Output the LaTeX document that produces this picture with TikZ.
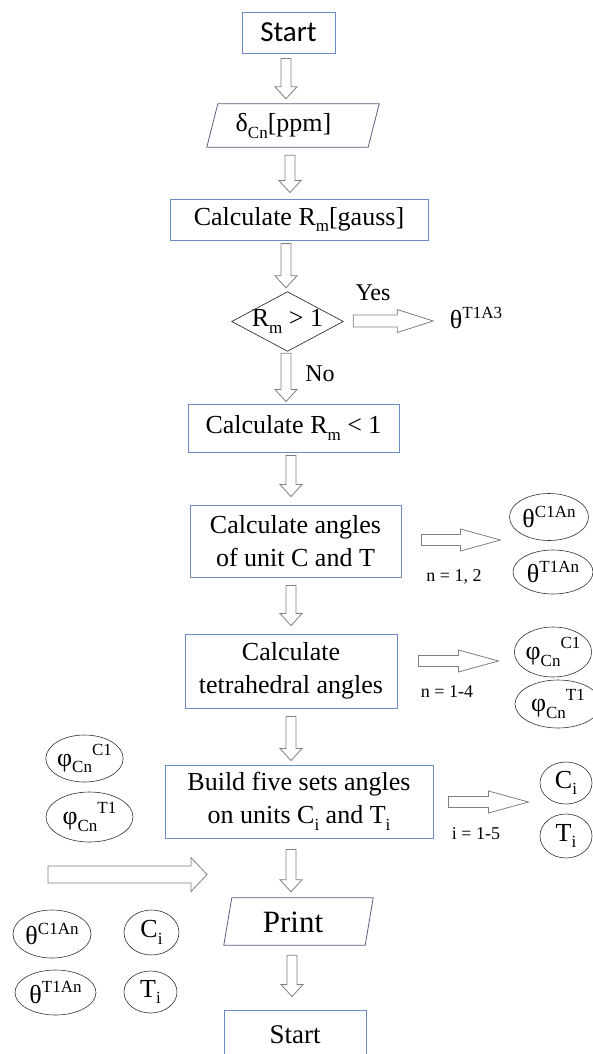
\documentclass[tikz,border=0pt]{standalone}
\usepackage{fontspec}
\setmainfont{Liberation Serif}
\newfontfamily\calibfont{Carlito}
\usetikzlibrary{calc,shapes.geometric}
\definecolor{boxblue}{HTML}{6B8BC4}
\definecolor{agray}{HTML}{7F7F7F}
\definecolor{pedge}{HTML}{55607A}
\newcommand\mysub[1]{\raisebox{-0.25em}{\fontsize{17}{17}\selectfont #1}}
\newcommand\mysup[1]{\raisebox{0.42em}{\fontsize{17}{17}\selectfont #1}}
\tikzset{
 bluebox/.style={draw=boxblue, line width=0.9pt, inner sep=0pt, align=center, font=\fontsize{26}{33}\selectfont},
 ghost/.style={inner sep=0pt, font=\fontsize{26}{33}\selectfont},
 oval/.style={ellipse, draw=black!80, line width=0.6pt, inner sep=0pt, font=\fontsize{26}{30}\selectfont},
 lbl/.style={inner sep=0pt, font=\fontsize{18}{20}\selectfont},
 plain/.style={inner sep=0pt, font=\fontsize{26}{30}\selectfont},
 pedgeline/.style={draw=pedge, line width=0.8pt},
 barrow/.style n args={3}{draw=agray, fill=white, line width=0.8pt, line join=miter,
   to path={let \p1=(\tikztostart), \p2=(\tikztotarget), \n1={atan2(\y2-\y1,\x2-\x1)}, \n2={veclen(\x2-\x1,\y2-\y1)-#3} in
   ($(\p1)+(\n1+90:#1)$) -- ($(\p1)+(\n1:{\n2*1pt})+(\n1+90:#1)$) -- ($(\p1)+(\n1:{\n2*1pt})+(\n1+90:#2)$) -- (\p2) -- ($(\p1)+(\n1:{\n2*1pt})+(\n1-90:#2)$) -- ($(\p1)+(\n1:{\n2*1pt})+(\n1-90:#1)$) -- ($(\p1)+(\n1-90:#1)$) -- cycle}},
 darrow/.style={barrow={5pt}{11pt}{12pt}},
 rarrow/.style={barrow={5.5pt}{11pt}{40pt}},
}
\begin{document}
\begin{tikzpicture}[x=1pt,y=-1pt]
\useasboundingbox (0,0) rectangle (593,1054);
% main column
\node[bluebox, minimum width=93pt, minimum height=41pt, font=\calibfont\fontsize{29}{33}\selectfont] (start) at (288.5,32.5) {Start};
\node[ghost, minimum width=172pt, minimum height=43pt] (inp) at (293,125.5) {};
\draw[pedgeline] ($(inp.north west)+(11,0)$) -- (inp.north east) -- ($(inp.south east)+(-11,0)$) -- (inp.south west) -- cycle;
\node[plain] (inptext) at (283.5,126) {δ\mysub{Cn}[ppm]};
\node[bluebox, minimum width=258pt, minimum height=41pt] (calcA) at (299,219.5) {Calculate R\mysub{m}[gauss]};
\node[ghost, minimum width=111pt, minimum height=59pt] (dec) at (287.5,321.5) {R\mysub{m} > 1};
\draw[black!80, line width=0.7pt] (dec.north) -- (dec.east) -- (dec.south) -- (dec.west) -- cycle;
\node[plain, font=\fontsize{24}{28}\selectfont] (yes) at (373,292.5) {Yes};
\node[plain] (th3) at (476,318) {θ\mysup{T1A3}};
\node[plain, font=\fontsize{24}{28}\selectfont] (no) at (320,373.5) {No};
\node[bluebox, minimum width=211pt, minimum height=48pt] (calcB) at (293.5,428) {Calculate R\mysub{m} < 1};
\node[bluebox, minimum width=211pt, minimum height=72pt] (calcC) at (295.5,541) {Calculate angles\\of unit C and T};
\node[lbl] (n12) at (454,577) {n = 1, 2};
\node[oval, minimum width=79pt, minimum height=47pt] (thC) at (549,517) {θ\mysup{C1An}};
\node[oval, minimum width=80pt, minimum height=44pt] (thT) at (553,572) {θ\mysup{T1An}};
\node[bluebox, minimum width=212pt, minimum height=74pt] (calcD) at (291,671) {Calculate\\tetrahedral angles};
\node[lbl] (n14) at (447,692) {n = 1-4};
\node[oval, minimum width=76pt, minimum height=50pt] (phC) at (553,652) {φ\mysub{Cn}\mysup{C1}};
\node[oval, minimum width=86pt, minimum height=48pt] (phT) at (558,704) {φ\mysub{Cn}\mysup{T1}};
\node[bluebox, minimum width=268pt, minimum height=73pt] (build) at (299,801.5) {Build five sets angles\\on units C\mysub{i} and T\mysub{i}};
\node[lbl] (i15) at (476,834) {i = 1-5};
\node[oval, minimum width=52pt, minimum height=42pt] (ci) at (566,783) {C\mysub{i}};
\node[oval, minimum width=52pt, minimum height=44pt] (ti) at (566,836) {T\mysub{i}};
\node[ghost, minimum width=149pt, minimum height=47pt] (print) at (298.5,921.5) {};
\draw[pedgeline] ($(print.north west)+(8,0)$) -- (print.north east) -- ($(print.south east)+(-8,0)$) -- (print.south west) -- cycle;
\node[plain, font=\fontsize{31}{34}\selectfont] (printtext) at (293,922) {Print};
\node[bluebox, minimum width=142pt, minimum height=50pt, font=\fontsize{27}{30}\selectfont] (fin) at (295,1035) {Start};
% left side
\node[oval, minimum width=75pt, minimum height=47pt] (lphC) at (84.5,758.5) {φ\mysub{Cn}\mysup{C1}};
\node[oval, minimum width=87pt, minimum height=50pt] (lphT) at (89.5,817) {φ\mysub{Cn}\mysup{T1}};
\coordinate (la1) at (48,874.5);
\coordinate (la2) at (207,874.5);
\node[oval, minimum width=78pt, minimum height=48pt] (lthC) at (52,934) {θ\mysup{C1An}};
\node[oval, minimum width=55pt, minimum height=45pt] (lci) at (151.5,932.5) {C\mysub{i}};
\node[oval, minimum width=81pt, minimum height=45pt] (lthT) at (55.5,992.5) {θ\mysup{T1An}};
\node[oval, minimum width=53pt, minimum height=42pt] (lti) at (150.5,992) {T\mysub{i}};
% block arrows
\path[darrow] ($(start.south)+(-2.5,5)$) to ($(inp.north)+(-7,-5)$);
\path[darrow] ($(inp.south)+(-3,8)$) to ($(calcA.north)+(-9,-6)$);
\path[darrow] ($(calcA.south)+(-13,3)$) to ($(dec.north)+(-1.5,-4)$);
\path[darrow] ($(dec.south)+(-1.5,2)$) to ($(calcB.north)+(-7.5,-2)$);
\path[darrow] ($(calcB.south)+(-2.5,3)$) to ($(calcC.north)+(-4.5,-8)$);
\path[darrow] ($(calcC.south)+(-4.5,8)$) to ($(calcD.north)+(0,-8)$);
\path[darrow] ($(calcD.south)+(0,8)$) to ($(build.north)+(-8,-4)$);
\path[darrow] ($(build.south)+(-8,11)$) to ($(print.north)+(-7.5,-6)$);
\path[darrow] ($(print.south)+(-6.5,10)$) to ($(fin.north)+(-3,-13)$);
\path[barrow={6pt}{11.5pt}{36pt}] ($(dec.east)+(10,-0.5)$) to ($(dec.east)+(90,-0.5)$);
\path[rarrow] ($(calcC.east)+(20,-1)$) to ($(calcC.east)+(99,-1)$);
\path[rarrow] ($(calcD.east)+(21,-10)$) to ($(calcD.east)+(101,-10)$);
\path[rarrow] ($(build.east)+(15,0.5)$) to ($(build.east)+(95,0.5)$);
\path[barrow={8.5pt}{17pt}{16pt}] (la1) to (la2);
\end{tikzpicture}
\end{document}
